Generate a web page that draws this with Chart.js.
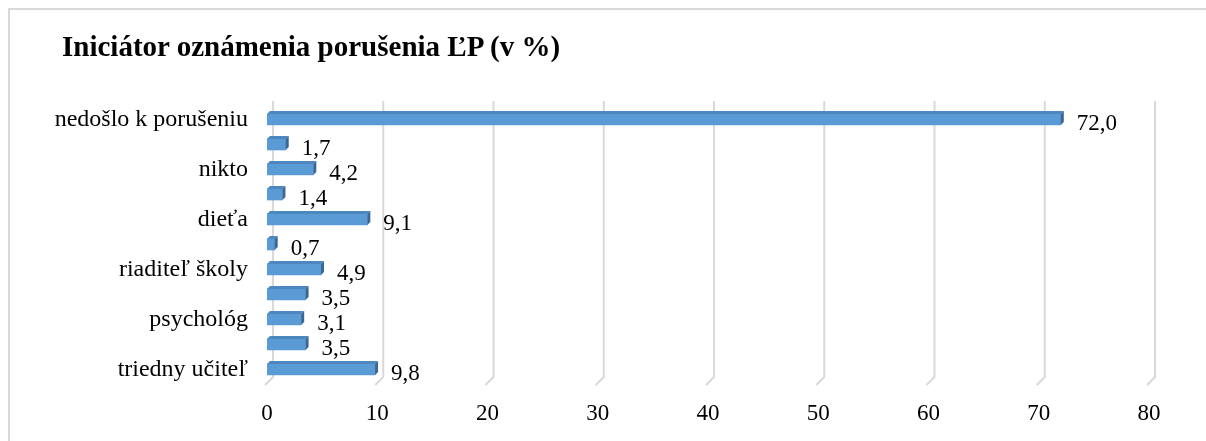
<!DOCTYPE html>
<html>
<head>
<meta charset="utf-8">
<script src="https://cdn.jsdelivr.net/npm/chart.js@4/dist/chart.umd.min.js"></script>
<style>
  html, body { margin: 0; padding: 0; background: #fff; overflow: hidden; }
  #wrap { position: relative; width: 1206px; height: 441px; }
  #frame { position: absolute; left: 8px; top: 8px; width: 1220px; height: 460px;
           border: 2px solid #d9d9d9; box-sizing: border-box; }
  #title { position: absolute; left: 62px; top: 29px; font: bold 29px "Liberation Serif", "Times New Roman", serif;
           color: #000; white-space: nowrap; line-height: 34px; }
  canvas { position: absolute; left: 0; top: 0; }
</style>
</head>
<body>
<div id="wrap">
  <div id="frame"></div>
  <canvas id="myChart" width="1206" height="441"></canvas>
  <div id="title">Iniciátor oznámenia porušenia ĽP (v %)</div>
</div>
<script>
// categories from top to bottom (labels Excel skipped are left empty)
const categories = ["nedošlo k porušeniu", "", "nikto", "", "dieťa", "", "riaditeľ školy", "", "psychológ", "", "triedny učiteľ"];
const percents = [72.0, 1.7, 4.2, 1.4, 9.1, 0.7, 4.9, 3.5, 3.1, 3.5, 9.8];
const xTicks = [0, 10, 20, 30, 40, 50, 60, 70, 80];

const FONT = '"Liberation Serif", "Times New Roman", serif';
const depth = 3;

// back-wall gridlines with the little floor diagonal
const gridPlugin = {
  id: 'grid3d',
  beforeDatasetsDraw(chart) {
    const { ctx, chartArea } = chart;
    const xs = chart.scales.x;
    ctx.save();
    ctx.strokeStyle = '#d9d9d9';
    ctx.lineWidth = 2;
    xTicks.forEach(v => {
      const px = xs.getPixelForValue(v);
      ctx.beginPath();
      ctx.moveTo(px + 6, chartArea.top - 6);
      ctx.lineTo(px + 6, chartArea.bottom - 5);
      ctx.lineTo(px - 2, chartArea.bottom + 3);
      ctx.stroke();
    });
    ctx.restore();
  }
};

// fake 3d faces and the value labels
const barPlugin = {
  id: 'bar3d',
  afterDatasetsDraw(chart) {
    const { ctx } = chart;
    const meta = chart.getDatasetMeta(0);
    ctx.save();
    meta.data.forEach((bar, i) => {
      const { x, y, base, height } = bar.getProps(['x', 'y', 'base', 'height'], true);
      const top = y - height / 2, bottom = y + height / 2;
      // top face
      ctx.fillStyle = '#4d87c0';
      ctx.beginPath();
      ctx.moveTo(base, top);
      ctx.lineTo(base + depth, top - depth);
      ctx.lineTo(x + depth, top - depth);
      ctx.lineTo(x, top);
      ctx.closePath();
      ctx.fill();
      // side face
      ctx.fillStyle = '#3a6794';
      ctx.beginPath();
      ctx.moveTo(x, top);
      ctx.lineTo(x + depth, top - depth);
      ctx.lineTo(x + depth, bottom - depth);
      ctx.lineTo(x, bottom);
      ctx.closePath();
      ctx.fill();
      // value label
      ctx.fillStyle = '#000';
      ctx.font = '23px ' + FONT;
      ctx.textAlign = 'left';
      ctx.textBaseline = 'middle';
      ctx.fillText(percents[i].toFixed(1).replace('.', ','), x + depth + 13, y + 4);
    });
    ctx.restore();
  }
};

new Chart(document.getElementById('myChart'), {
  type: 'bar',
  data: {
    labels: categories,
    datasets: [{
      data: percents,
      backgroundColor: '#5b9bd5',
      borderWidth: 0,
      barThickness: 11
    }]
  },
  options: {
    indexAxis: 'y',
    responsive: false,
    animation: false,
    events: [],
    layout: { padding: { left: 0, right: 57, top: 107, bottom: 0 } },
    plugins: { legend: { display: false }, tooltip: { enabled: false }, title: { display: false } },
    scales: {
      x: {
        min: 0, max: 80,
        afterBuildTicks: s => { s.ticks = xTicks.map(v => ({ value: v })); },
        afterFit: s => { s.height = 59; },
        grid: { display: false, drawTicks: false },
        border: { display: false },
        ticks: { color: '#000', padding: 18, font: { family: FONT, size: 23 }, maxRotation: 0 }
      },
      y: {
        afterFit: s => { s.width = 267; },
        grid: { display: false, drawTicks: false },
        border: { display: false },
        ticks: { color: '#000', padding: 19, autoSkip: false, font: { family: FONT, size: 24 } }
      }
    }
  },
  plugins: [gridPlugin, barPlugin]
});
</script>
</body>
</html>
